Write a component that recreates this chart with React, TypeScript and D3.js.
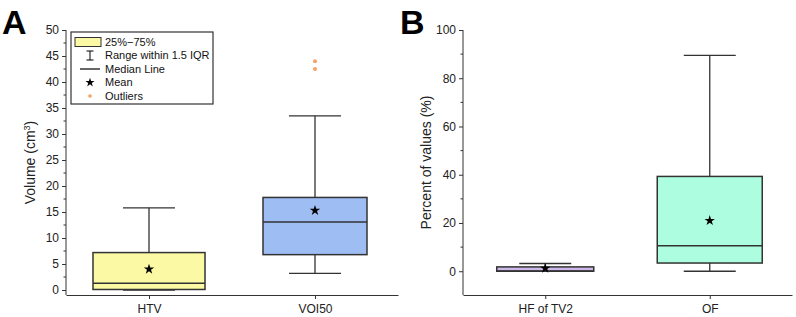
import * as d3 from 'd3';
import { useEffect, useRef } from 'react';

// panel A: volumes (cm3)
const volCategories = ['HTV', 'VOI50'];
const volWhiskerLow = [0, 3.2];
const volQ1 = [0.1, 6.8];
const volMedian = [1.3, 13.1];
const volQ3 = [7.2, 17.8];
const volWhiskerHigh = [15.8, 33.5];
const volMean = [4.0, 15.3];
const volOutliers = [[], [42.5, 44.0]];
const volFills = ['#fbf9a4', '#9ebdf2'];
const volTicks = [0, 5, 10, 15, 20, 25, 30, 35, 40, 45, 50];

// panel B: percent of values
const pctCategories = ['HF of TV2', 'OF'];
const pctWhiskerLow = [0, 0];
const pctQ1 = [0, 3.4];
const pctMedian = [0.1, 10.6];
const pctQ3 = [1.8, 39.3];
const pctWhiskerHigh = [3.2, 89.5];
const pctMean = [1.2, 21.0];
const pctOutliers = [[], []];
const pctFills = ['#cbb8e8', '#adfde1'];
const pctTicks = [0, 20, 40, 60, 80, 100];

const legendItems = ['25%\u221275%', 'Range within 1.5 IQR', 'Median Line', 'Mean', 'Outliers'];

const FONT = 'Liberation Sans, Arial, sans-serif';
const INK = '#333';

type PanelOpts = {
  letter: string;
  x0: number;
  x1: number;
  yTop: number;
  yBottom: number;
  domain: [number, number];
  ticks: number[];
  minorStep: number;
  yLabel: (t: d3.Selection<SVGTextElement, unknown, null, undefined>) => void;
  yLabelX: number;
  categories: string[];
  low: number[];
  q1: number[];
  med: number[];
  q3: number[];
  high: number[];
  mean: number[];
  outliers: number[][];
  fills: string[];
  boxWidth: number[];
};

function drawPanel(svg: d3.Selection<SVGSVGElement, unknown, null, undefined>, o: PanelOpts) {
  const g = svg.append('g');
  const y = d3.scaleLinear().domain(o.domain).range([o.yBottom, o.yTop]);
  const x = d3.scalePoint<string>().domain(o.categories).range([o.x0, o.x1]).padding(0.5);

  // y axis with minor ticks
  const minor = d3.range(o.domain[0] < 0 ? 0 : o.domain[0], o.domain[1] + 0.001, o.minorStep)
    .filter((v) => !o.ticks.includes(v));
  g.append('g')
    .attr('transform', `translate(${o.x0},0)`)
    .selectAll('line')
    .data(minor)
    .join('line')
    .attr('x1', -2.5)
    .attr('x2', 0)
    .attr('y1', (d) => y(d))
    .attr('y2', (d) => y(d))
    .attr('stroke', INK);

  const yAxis = g.append('g')
    .attr('transform', `translate(${o.x0},0)`)
    .call(d3.axisLeft(y).tickValues(o.ticks).tickSize(4).tickPadding(3).tickSizeOuter(0));
  yAxis.select('.domain').attr('stroke', INK).attr('d', `M0,${o.yTop}V${o.yBottom}`);
  yAxis.selectAll('line').attr('stroke', INK);
  yAxis.selectAll('text').attr('font-family', FONT).attr('font-size', 12).attr('fill', '#222');

  const xAxis = g.append('g')
    .attr('transform', `translate(0,${o.yBottom})`)
    .call(d3.axisBottom(x).tickSize(4).tickPadding(5).tickSizeOuter(0));
  xAxis.select('.domain').attr('stroke', INK);
  xAxis.selectAll('line').attr('stroke', INK);
  xAxis.selectAll('text').attr('font-family', FONT).attr('font-size', 12).attr('fill', '#222');

  // boxes
  o.categories.forEach((c, i) => {
    const cx = x(c)!;
    const bw = o.boxWidth[i];
    const cap = 52;
    const bg = g.append('g');
    bg.append('line')
      .attr('x1', cx).attr('x2', cx)
      .attr('y1', y(o.high[i])).attr('y2', y(o.low[i]))
      .attr('stroke', INK).attr('stroke-width', 1.3);
    [o.high[i], o.low[i]].forEach((v) => {
      bg.append('line')
        .attr('x1', cx - cap / 2).attr('x2', cx + cap / 2)
        .attr('y1', y(v)).attr('y2', y(v))
        .attr('stroke', INK).attr('stroke-width', 1.3);
    });
    bg.append('rect')
      .attr('x', cx - bw / 2)
      .attr('width', bw)
      .attr('y', y(o.q3[i]))
      .attr('height', Math.max(0.5, y(o.q1[i]) - y(o.q3[i])))
      .attr('fill', o.fills[i])
      .attr('stroke', INK)
      .attr('stroke-width', 1.5);
    bg.append('line')
      .attr('x1', cx - bw / 2).attr('x2', cx + bw / 2)
      .attr('y1', y(o.med[i])).attr('y2', y(o.med[i]))
      .attr('stroke', INK).attr('stroke-width', 1.5);
    bg.append('path')
      .attr('d', d3.symbol(d3.symbolStar, 34)())
      .attr('transform', `translate(${cx},${y(o.mean[i])})`)
      .attr('fill', '#000');
    bg.selectAll('circle')
      .data(o.outliers[i])
      .join('circle')
      .attr('cx', cx)
      .attr('cy', (d) => y(d))
      .attr('r', 2)
      .attr('fill', '#f6a263');
  });

  const label = g.append('text')
    .attr('transform', `translate(${o.yLabelX},${(o.yTop + o.yBottom) / 2}) rotate(-90)`)
    .attr('text-anchor', 'middle')
    .attr('font-family', FONT)
    .attr('font-size', 14)
    .attr('fill', '#222');
  o.yLabel(label);

  return { x, y };
}

export default function App() {
  const ref = useRef<SVGSVGElement>(null);

  useEffect(() => {
    if (!ref.current) return;
    const svg = d3.select(ref.current);
    svg.selectAll('*').remove();

    drawPanel(svg, {
      letter: 'A',
      x0: 66,
      x1: 398,
      yTop: 30,
      yBottom: 295,
      domain: [-0.96, 50],
      ticks: volTicks,
      minorStep: 2.5,
      yLabelX: 35,
      yLabel: (t) => {
        t.append('tspan').text('Volume (cm');
        t.append('tspan').attr('dy', -5).attr('font-size', 9).text('3');
        t.append('tspan').attr('dy', 5).text(')');
      },
      categories: volCategories,
      low: volWhiskerLow,
      q1: volQ1,
      med: volMedian,
      q3: volQ3,
      high: volWhiskerHigh,
      mean: volMean,
      outliers: volOutliers,
      fills: volFills,
      boxWidth: [112, 104],
    });

    drawPanel(svg, {
      letter: 'B',
      x0: 463,
      x1: 792,
      yTop: 30,
      yBottom: 295,
      domain: [-9.85, 100],
      ticks: pctTicks,
      minorStep: 10,
      yLabelX: 431,
      yLabel: (t) => {
        t.text('Percent of values (%)');
      },
      categories: pctCategories,
      low: pctWhiskerLow,
      q1: pctQ1,
      med: pctMedian,
      q3: pctQ3,
      high: pctWhiskerHigh,
      mean: pctMean,
      outliers: pctOutliers,
      fills: pctFills,
      boxWidth: [97, 105],
    });

    // panel letters
    [['A', 2], ['B', 400]].forEach(([l, lx]) => {
      svg.append('text')
        .attr('x', lx as number)
        .attr('y', 33.5)
        .attr('font-family', FONT)
        .attr('font-weight', 'bold')
        .attr('font-size', 34)
        .attr('fill', '#000')
        .text(l as string);
    });

    // legend for panel A
    const lg = svg.append('g').attr('transform', 'translate(71,32)');
    lg.append('rect')
      .attr('width', 142).attr('height', 72)
      .attr('fill', '#fff').attr('stroke', INK).attr('stroke-width', 1.2);
    const rowY = (i: number) => 10 + i * 13.5;
    const sx = 19;
    lg.append('rect')
      .attr('x', 4).attr('y', rowY(0) - 4.5).attr('width', 26).attr('height', 9)
      .attr('fill', volFills[0]).attr('stroke', INK).attr('stroke-width', 1);
    lg.append('path')
      .attr('d', `M${sx - 3.5},${rowY(1) - 4.5}H${sx + 3.5}M${sx},${rowY(1) - 4.5}V${rowY(1) + 4.5}M${sx - 3.5},${rowY(1) + 4.5}H${sx + 3.5}`)
      .attr('stroke', '#000').attr('fill', 'none').attr('stroke-width', 1);
    lg.append('line')
      .attr('x1', sx - 10).attr('x2', sx + 10)
      .attr('y1', rowY(2)).attr('y2', rowY(2))
      .attr('stroke', '#000').attr('stroke-width', 1.2);
    lg.append('path')
      .attr('d', d3.symbol(d3.symbolStar, 26)())
      .attr('transform', `translate(${sx},${rowY(3)})`)
      .attr('fill', '#000');
    lg.append('circle')
      .attr('cx', sx).attr('cy', rowY(4)).attr('r', 1.8).attr('fill', '#f6a263');
    lg.selectAll('text.item')
      .data(legendItems)
      .join('text')
      .attr('class', 'item')
      .attr('x', 34)
      .attr('y', (_, i) => rowY(i))
      .attr('dy', '0.36em')
      .attr('font-family', FONT)
      .attr('font-size', 11)
      .attr('fill', '#111')
      .text((d) => d);
  }, []);

  return (
    <svg
      ref={ref}
      width={796}
      height={317}
      style={{ position: 'absolute', left: 0, top: 0, background: '#fff' }}
    />
  );
}
